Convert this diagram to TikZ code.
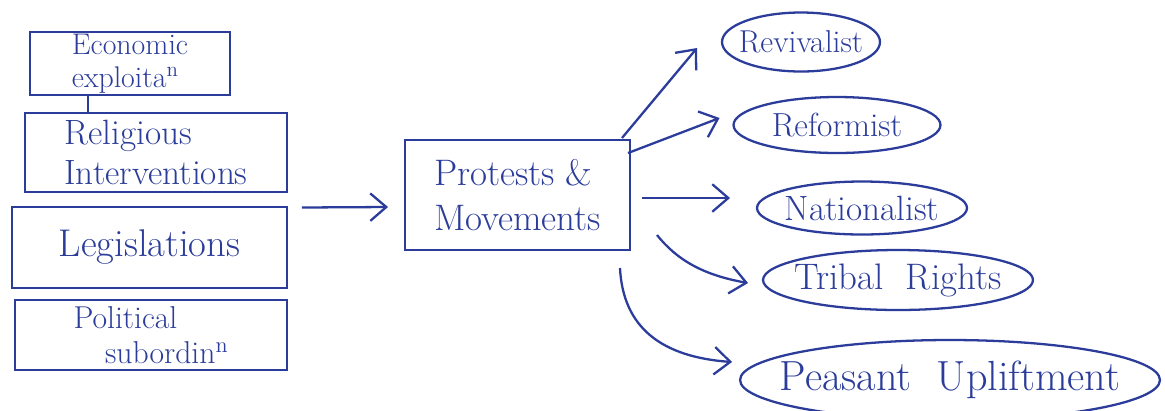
\documentclass[tikz,border=0pt]{standalone}
\usepackage{tikz}
\usetikzlibrary{arrows.meta,shapes.geometric}
\definecolor{inkblue}{HTML}{2B3C9A}

\begin{document}
\begin{tikzpicture}[x=0.02cm,y=-0.02cm,
    every node/.style={font=\fontsize{20}{23}\selectfont,text=inkblue,align=left},
    cause/.style={draw=inkblue,line width=1.3pt,inner xsep=3pt,inner ysep=0pt,outer sep=0pt},
    kind/.style={ellipse,draw=inkblue,line width=1.3pt,inner xsep=-25pt,inner ysep=-5pt,outer sep=0pt},
    arr/.style={-{Straight Barb[length=3.2mm,width=5.5mm]},draw=inkblue,line width=1.3pt},
    tie/.style={draw=inkblue,line width=1.3pt}
]
\useasboundingbox (0,0) rectangle (1165,410);
% causes on the left
\node[cause,minimum width=4cm,minimum height=1.26cm,font=\fontsize{17}{19}\selectfont] (econ) at (130,63.5) {Economic\\exploita\textsuperscript{n}\quad};
\node[cause,minimum width=5.24cm,minimum height=1.58cm] (relig) at (156,152.5) {Religious\\Interventions};
\node[cause,minimum width=5.5cm,minimum height=1.62cm,font=\fontsize{22}{25}\selectfont] (legis) at (149.5,247.5) {Legislations};
\node[cause,minimum width=5.44cm,minimum height=1.4cm,font=\fontsize{18}{20}\selectfont] (polit) at (151,335) {Political\\\quad subordin\textsuperscript{n}};
% centre
\node[cause,minimum width=4.5cm,minimum height=2.2cm,font=\fontsize{21}{26}\selectfont] (prot) at (517.5,195) {Protests \&\\Movements};
% kinds of movement
\node[kind,minimum width=3.16cm,minimum height=1.18cm,font=\fontsize{18}{20}\selectfont] (reviv) at (801,42) {Revivalist};
\node[kind,minimum width=4.14cm,minimum height=1.12cm,font=\fontsize{19}{21}\selectfont] (reform) at (837,125) {Reformist};
\node[kind,minimum width=4.2cm,minimum height=1.06cm] (nation) at (862,208) {Nationalist};
\node[kind,minimum width=5.4cm,minimum height=1.2cm,font=\fontsize{21}{24}\selectfont] (tribal) at (898,280) {Tribal\ \ Rights};
\node[kind,minimum width=8.4cm,minimum height=1.6cm,font=\fontsize{24}{26}\selectfont] (peas) at (950,380) {Peasant\ \ Upliftment};

\draw[tie] ([shift={(-42,0)}]econ.south) -- ([shift={(-68,0)}]relig.north);
\draw[arr] ([shift={(15,-40)}]legis.east) -- ([shift={(-17,12)}]prot.west);
\draw[arr] ([shift={(-8,-2)}]prot.north east) -- ([shift={(-25,6)}]reviv.west);
\draw[arr] ([shift={(-2,13)}]prot.north east) -- ([shift={(-14,-7)}]reform.west);
\draw[arr] ([shift={(12,3)}]prot.east) -- ([shift={(-27,-10)}]nation.west);
\draw[arr] ([shift={(27,40)}]prot.east) .. controls +(20,25) and +(-45,-8) .. ([shift={(-15,3)}]tribal.west);
\draw[arr] ([shift={(-10,18)}]prot.south east) .. controls +(3,60) and +(-70,-5) .. ([shift={(-8,-18)}]peas.west);
\end{tikzpicture}
\end{document}
